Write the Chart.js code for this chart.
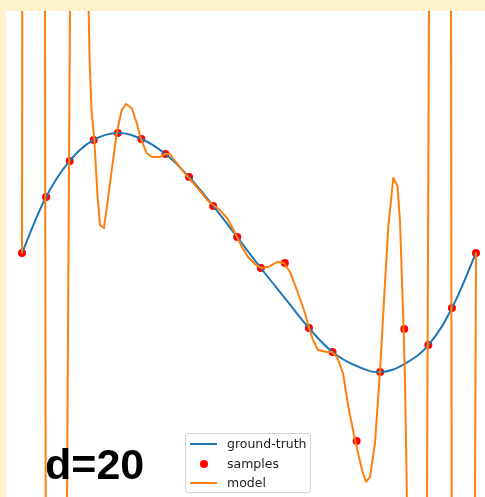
<!DOCTYPE html>
<html>
<head>
<meta charset="utf-8">
<script src="https://cdn.jsdelivr.net/npm/chart.js@4/dist/chart.umd.min.js"></script>
<style>
  html, body { margin:0; padding:0; }
  body { width:485px; height:497px; background:#FFF2CC; position:relative; overflow:hidden; }
  #c { position:absolute; left:6px; top:11px; background:#ffffff; }
  #legend { position:absolute; left:185px; top:433px; width:126px; height:60px; box-sizing:border-box;
            border:1px solid #d4d4d4; border-radius:3px; background:rgba(255,255,255,0.85);
            font-family:"DejaVu Sans", sans-serif; font-size:12.5px; color:#222; }
  .row { position:absolute; left:0; height:16px; width:100%; }
  .sw-line { position:absolute; left:4px; width:27px; height:2px; top:7px; }
  .sw-dot { position:absolute; left:14px; top:4px; width:8px; height:8px; border-radius:50%; background:#ff0000; }
  .lbl { position:absolute; left:41px; top:0; line-height:16px; white-space:nowrap; }
  #dlabel { position:absolute; left:45px; top:443px; font-family:"Liberation Sans", Arial, sans-serif;
            font-weight:bold; font-size:43px; line-height:43px; color:#000; white-space:nowrap; }
</style>
</head>
<body>
<canvas id="c" width="479" height="486"></canvas>
<div id="legend">
  <div class="row" style="top:2px"><div class="sw-line" style="background:#1f77b4"></div><div class="lbl">ground-truth</div></div>
  <div class="row" style="top:22px"><div class="sw-dot"></div><div class="lbl">samples</div></div>
  <div class="row" style="top:41px"><div class="sw-line" style="background:#ff7f0e"></div><div class="lbl">model</div></div>
</div>
<div id="dlabel">d=20</div>
<script>
// sample positions
const sampleX = [0, 0.053, 0.105, 0.158, 0.211, 0.263, 0.316, 0.368, 0.421, 0.474,
                 0.526, 0.579, 0.632, 0.684, 0.737, 0.789, 0.842, 0.895, 0.947, 1.0];
// noisy samples
const sampleY = [0, 0.467, 0.767, 0.942, 1.0, 0.95, 0.825, 0.633, 0.392, 0.133,
                 -0.125, -0.083, -0.625, -0.825, -1.567, -0.992, -0.633, -0.767, -0.458, 0];
// ground truth curve read at the same x positions
const truthY = [0, 0.467, 0.767, 0.942, 1.0, 0.95, 0.825, 0.633, 0.392, 0.133,
                -0.125, -0.375, -0.625, -0.825, -0.942, -0.992, -0.925, -0.767, -0.458, 0];
// degree-20 model, traced (values beyond +-2 leave the visible window)
const modelX = [0, 0.0007, 0.0504, 0.0524, 0.0982, 0.1066, 0.1438, 0.1489, 0.1531, 0.1593,
                0.1663, 0.1718, 0.1806, 0.1938, 0.2086, 0.2196, 0.2291, 0.2416, 0.2526, 0.2621,
                0.2747, 0.2863, 0.304, 0.315, 0.326, 0.337, 0.3546, 0.3656, 0.381, 0.3943,
                0.4075, 0.4207, 0.4361, 0.4515, 0.4626, 0.4736, 0.4846, 0.4978, 0.5132, 0.5264,
                0.5419, 0.5617, 0.5771, 0.5903, 0.6079, 0.6233, 0.6322, 0.641, 0.652, 0.6718,
                0.6828, 0.6938, 0.707, 0.7181, 0.7335, 0.7489, 0.7577, 0.7665, 0.7775, 0.7885,
                0.7974, 0.8068, 0.8178, 0.8271, 0.8326, 0.8399, 0.8436, 0.8502, 0.8914, 0.8971,
                0.9447, 0.9467, 0.9971, 1.0];
const modelY = [0, 2.6, 2.6, -2.6, -2.6, 2.6, 2.6, 1.608, 1.192, 0.942,
                0.483, 0.233, 0.208, 0.583, 1.0, 1.192, 1.242, 1.208, 1.083, 0.95,
                0.833, 0.8, 0.8, 0.825, 0.825, 0.767, 0.683, 0.633, 0.567, 0.508,
                0.442, 0.4, 0.358, 0.292, 0.217, 0.133, 0.05, -0.033, -0.092, -0.125,
                -0.117, -0.075, -0.083, -0.158, -0.333, -0.5, -0.625, -0.725, -0.808, -0.825,
                -0.825, -0.867, -1.0, -1.267, -1.558, -1.808, -1.908, -1.867, -1.583, -0.992,
                -0.392, 0.217, 0.625, 0.558, 0.258, -0.558, -1.058, -2.6, -2.6, 2.6,
                2.6, -2.6, -2.6, 0];

const pts = (xs, ys) => xs.map((x, i) => ({x: x, y: ys[i]}));

new Chart(document.getElementById('c'), {
  type: 'scatter',
  data: {
    datasets: [
      { label: 'ground-truth', data: pts(sampleX, truthY), showLine: true, pointRadius: 0,
        borderColor: '#1f77b4', borderWidth: 2, tension: 0.4, order: 1 },
      { label: 'samples', data: pts(sampleX, sampleY), showLine: false, pointRadius: 4,
        backgroundColor: '#ff0000', borderColor: '#ff0000', borderWidth: 0, order: 2 },
      { label: 'model', data: pts(modelX, modelY), showLine: true, pointRadius: 0,
        borderColor: '#ff7f0e', borderWidth: 2, tension: 0, borderJoinStyle: 'round',
        borderCapStyle: 'round', order: 0 }
    ]
  },
  options: {
    responsive: false,
    animation: false,
    layout: { padding: 0, autoPadding: false },
    scales: {
      x: { type: 'linear', display: false, min: -0.03524, max: 1.01982 },
      y: { type: 'linear', display: false, min: -2.0333, max: 2.0167 }
    },
    plugins: { legend: { display: false }, tooltip: { enabled: false } }
  }
});
</script>
</body>
</html>
